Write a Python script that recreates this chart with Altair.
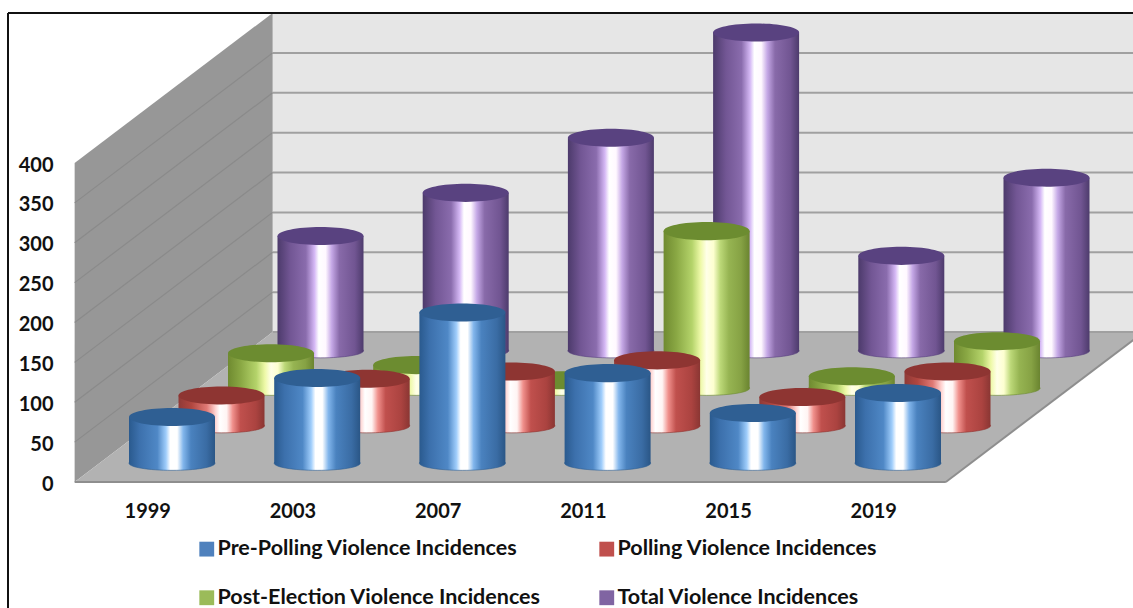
import altair as alt
import pandas as pd

# Election violence counts per election year
YEARS = ["1999", "2003", "2007", "2011", "2015", "2019"]
PRE_POLLING = [58, 107, 189, 113, 63, 88]
POLLING = [38, 59, 68, 82, 36, 68]
POST_ELECTION = [44, 29, 10, 197, 15, 59]
TOTAL = [144, 198, 267, 399, 119, 217]
SERIES_NAMES = [
    "Pre-Polling Violence Incidences",
    "Polling Violence Incidences",
    "Post-Election Violence Incidences",
    "Total Violence Incidences",
]
SERIES_VALUES = [PRE_POLLING, POLLING, POST_ELECTION, TOTAL]
LEGEND_COLORS = ["#4f81bd", "#c0504d", "#9bbb59", "#8064a2"]
CAP_COLORS = ["#2f5f93", "#8e3532", "#6c8c30", "#594280"]
TICKS = [0, 50, 100, 150, 200, 250, 300, 350, 400]

FONT = "Lato"
W, H = 1133, 608

# Oblique projection: one step of depth moves a point right and up
X_PER_DEPTH = 49.5 / 145.2
Y_PER_DEPTH = 37.5 / 0.7975
DEPTH = 4
HALF_BAR = 43 / 145.2
X_DOMAIN = [-147.25 / 145.2, (W - 147.25) / 145.2]
Y_DOMAIN = [(482 - H) / 0.7975, 482 / 0.7975]

x_scale = alt.Scale(domain=X_DOMAIN, range=[0, W], nice=False, zero=False)
y_scale = alt.Scale(domain=Y_DOMAIN, range=[H, 0], nice=False, zero=False)

# Category axis sits just below the front edge of the floor
year_expr = "[" + ",".join(f"'{y}'" for y in YEARS) + "][datum.value]"
x_axis = alt.Axis(
    values=list(range(len(YEARS))), labelExpr=year_expr, title=None, domain=False, ticks=False, grid=False,
    offset=-107, labelPadding=0, labelFont=FONT, labelFontWeight="bold", labelFontSize=20,
    labelColor="#111111",
)
y_axis = alt.Axis(
    values=TICKS, title=None, domain=False, ticks=False, grid=False, offset=-55, labelPadding=2,
    labelOffset=2, labelFont=FONT, labelFontWeight="bold", labelFontSize=20, labelColor="#111111",
)


def px(cat, depth):
    return cat + depth * X_PER_DEPTH


def py(value, depth):
    return value + depth * Y_PER_DEPTH


def X(field):
    return alt.X(field, type="quantitative", scale=x_scale, axis=x_axis)


def Y(field):
    return alt.Y(field, type="quantitative", scale=y_scale, axis=y_axis)


def gradient(stops):
    return alt.LinearGradient(
        gradient="linear", x1=0, x2=1, y1=0, y2=0,
        stops=[alt.GradientStop(offset=o, color=c) for o, c in stops],
    )


BODY = [
    gradient([(0, "#2a5a8e"), (.12, "#3c70ac"), (.33, "#4f88c6"), (.43, "#9fcdfb"), (.48, "#ffffff"),
              (.56, "#ffffff"), (.63, "#82b6ec"), (.72, "#4a82bf"), (.9, "#3a6ca4"), (1, "#2a5686")]),
    gradient([(0, "#8f3a37"), (.15, "#b0463f"), (.33, "#e07a76"), (.43, "#ffd4d2"), (.48, "#ffffff"),
              (.56, "#fff4f3"), (.63, "#f0908c"), (.72, "#c0504d"), (.9, "#ab4340"), (1, "#8a3633")]),
    gradient([(0, "#6f8a30"), (.15, "#8aa844"), (.33, "#b4d36a"), (.43, "#eef9a8"), (.5, "#ffffe8"),
              (.58, "#fdffd0"), (.66, "#bcd878"), (.76, "#96b452"), (.9, "#86a244"), (1, "#6a8430")]),
    gradient([(0, "#4c3a6b"), (.15, "#725694"), (.33, "#8a6cad"), (.43, "#d5b8f5"), (.48, "#ffffff"),
              (.56, "#fff8ff"), (.63, "#c5a8e6"), (.72, "#886aa9"), (.9, "#715592"), (1, "#4d3b6c")]),
]
CAP_ELLIPSE = "M-1,0A1,0.21 0 1,1 1,0A1,0.21 0 1,1 -1,0Z"
BASE_ELLIPSE = "M-1,0A1,0.165 0 1,1 1,0A1,0.165 0 1,1 -1,0Z"
ELLIPSE_SIZE = 86 ** 2

# Chart frame: walls and floor of the 3-D box
back_wall = alt.Chart(pd.DataFrame({
    "x": [px(-0.5, DEPTH)], "x2": [px(5.5, DEPTH)],
    "y": [py(0, DEPTH)], "y2": [py(400, DEPTH)],
})).mark_rect(color="#e6e6e6", clip=True).encode(x=X("x"), x2="x2", y=Y("y"), y2="y2")

left_wall = alt.Chart(pd.DataFrame({
    "x": [px(-0.5, 0), px(-0.5, DEPTH)],
    "y": [py(0, 0), py(0, DEPTH)],
    "y2": [py(400, 0), py(400, DEPTH)],
})).mark_area(color="#979797", opacity=1).encode(x=X("x"), y=Y("y"), y2="y2")

floor = alt.Chart(pd.DataFrame({
    "y": [py(0, 0), py(0, DEPTH)],
    "x": [px(-0.5, 0), px(-0.5, DEPTH)],
    "x2": [px(5.5, 0), px(5.5, DEPTH)],
})).mark_area(color="#b2b2b2", orient="horizontal", opacity=1, clip=True).encode(
    x=X("x"), x2="x2", y=Y("y")
)

back_grid = alt.Chart(pd.DataFrame({
    "x": px(-0.5, DEPTH), "x2": px(5.5, DEPTH), "y": [py(t, DEPTH) for t in TICKS[:-1]],
})).mark_rule(color="#a0a0a0", strokeWidth=2, clip=True).encode(x=X("x"), x2="x2", y=Y("y"))

side_rows = [{"t": t, "x": px(-0.5, d), "y": py(t, d)} for t in TICKS[1:-1] for d in (0, DEPTH)]
side_grid = alt.Chart(pd.DataFrame(side_rows)).mark_line(color="#8a8a8a", strokeWidth=1.2).encode(
    x=X("x"), y=Y("y"), detail="t:N"
)

edge_rows = [
    {"e": "front", "x": px(-0.5, 0), "y": py(0, 0)},
    {"e": "front", "x": px(5.5, 0), "y": py(0, 0)},
    {"e": "right", "x": px(5.5, 0), "y": py(0, 0)},
    {"e": "right", "x": px(5.5, DEPTH), "y": py(0, DEPTH)},
]
floor_edges = alt.Chart(pd.DataFrame(edge_rows)).mark_line(color="#8e8e8e", strokeWidth=2, clip=True).encode(
    x=X("x"), y=Y("y"), detail="e:N"
)

layers = [back_wall, left_wall, floor, back_grid, side_grid, floor_edges]

# Cylinders, drawn from the rearmost series to the front one
for s in (3, 2, 1, 0):
    depth = s + 0.5
    table = pd.DataFrame({
        "year": YEARS,
        "value": SERIES_VALUES[s],
        "x": [px(i, depth) for i in range(len(YEARS))],
        "left": [px(i - HALF_BAR, depth) for i in range(len(YEARS))],
        "right": [px(i + HALF_BAR, depth) for i in range(len(YEARS))],
        "base": py(0, depth),
        "top": [py(v, depth) for v in SERIES_VALUES[s]],
    })
    base = alt.Chart(table)
    layers.append(base.mark_point(
        shape=BASE_ELLIPSE, size=ELLIPSE_SIZE, filled=True, opacity=1,
        color=BODY[s], stroke=CAP_COLORS[s], strokeWidth=0.6,
    ).encode(x=X("x"), y=Y("base")))
    layers.append(base.mark_rect(color=BODY[s]).encode(
        x=X("left"), x2="right", y=Y("base"), y2="top"
    ))
    layers.append(base.mark_point(
        shape=CAP_ELLIPSE, size=ELLIPSE_SIZE, filled=True, opacity=1, color=CAP_COLORS[s], strokeWidth=0,
    ).encode(x=X("x"), y=Y("top")))

# Invisible points that carry the legend
key = alt.Chart(pd.DataFrame({"name": SERIES_NAMES, "x": 0, "y": 0})).mark_point(
    filled=True, size=0
).encode(
    x=X("x"), y=Y("y"),
    color=alt.Color("name:N", scale=alt.Scale(domain=SERIES_NAMES, range=LEGEND_COLORS), legend=alt.Legend(
        title=None, orient="none", legendX=196, legendY=538, direction="horizontal", columns=2,
        symbolType="square", symbolSize=220, symbolStrokeWidth=0, symbolOpacity=1,
        labelFont=FONT, labelFontWeight="bold", labelFontSize=21.5, labelColor="#111111",
        labelOffset=0, columnPadding=55, rowPadding=26, labelLimit=400,
    )),
)
layers.append(key)

# Outer frame, left and top only
layers.append(alt.Chart(pd.DataFrame({"f": [0]})).mark_rule(color="#111111", strokeWidth=2).encode(
    x=alt.value(8), y=alt.value(13), y2=alt.value(H)
))
layers.append(alt.Chart(pd.DataFrame({"f": [0]})).mark_rule(color="#111111", strokeWidth=2).encode(
    x=alt.value(8), x2=alt.value(W), y=alt.value(13)
))

chart = alt.layer(*layers).properties(
    width=W, height=H, padding=0, autosize=alt.AutoSizeParams(type="none"), background="white"
).configure_view(stroke=None)

chart.save("out.html", embed_options={"renderer": "svg", "actions": False})
